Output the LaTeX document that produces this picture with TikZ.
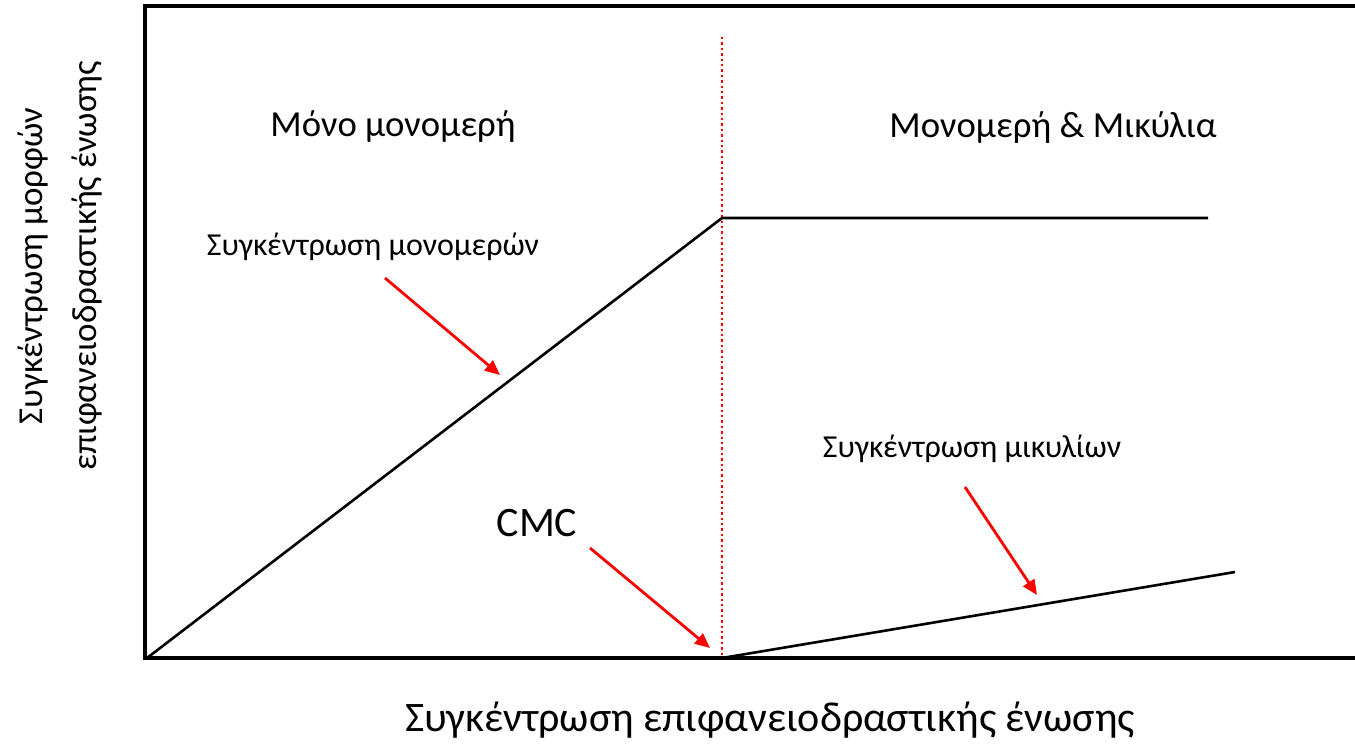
\documentclass[tikz,border=0pt]{standalone}
\usepackage{fontspec}
\setmainfont{Carlito}
\usetikzlibrary{arrows.meta}
\begin{document}
\begin{tikzpicture}[x=1pt,y=-1pt,
  curve/.style={black,line width=2.6pt},
  redarrow/.style={red,line width=2.8pt,-{Triangle[length=15pt,width=13pt]}},
  lbl/.style={inner sep=0pt,font=\fontsize{32}{38}\selectfont},
  head/.style={inner sep=0pt,font=\fontsize{36.7}{44}\selectfont},
  big/.style={inner sep=0pt,font=\fontsize{42}{50}\selectfont}]
\useasboundingbox (0,0) rectangle (1355,748);
\draw[line width=4pt] (1360,6) -- (145,6) -- (145,658) -- (1360,658);
\coordinate (o) at (147,658);
\coordinate (k) at (722,218);
\coordinate (h) at (1208,218);
\coordinate (m0) at (722,658);
\coordinate (m1) at (1235,572);
\coordinate (vt) at (722,37);
\draw[red,line width=2.4pt,dash pattern=on 2.4pt off 3pt] (vt) -- (m0);
\draw[curve] (o) -- (k) -- (h);
\draw[curve] (m0) -- (m1);
\node[head] (t1) at (393,127) {Μόνο μονομερή};
\node[head] (t2) at (1053,128) {Μονομερή \& Μικύλια};
\node[lbl] (t3) at (373,247) {Συγκέντρωση μονομερών};
\node[lbl] (t4) at (972,449) {Συγκέντρωση μικυλίων};
\node[big] (t5) at (537,523) {CMC};
\node[big] (xl) at (770,720) {Συγκέντρωση επιφανειοδραστικής ένωσης};
\node[inner sep=0pt,rotate=90,align=center,font=\fontsize{35}{54}\selectfont] (yl) at (60,266) {Συγκέντρωση μορφών\\επιφανειοδραστικής ένωσης};
\coordinate (a1s) at (385,278); \coordinate (a1e) at (500,375);
\coordinate (a2s) at (590,548); \coordinate (a2e) at (710,648);
\coordinate (a3s) at (965,487); \coordinate (a3e) at (1037,595);
\draw[redarrow] (a1s) -- (a1e);
\draw[redarrow] (a2s) -- (a2e);
\draw[redarrow] (a3s) -- (a3e);
\end{tikzpicture}
\end{document}
